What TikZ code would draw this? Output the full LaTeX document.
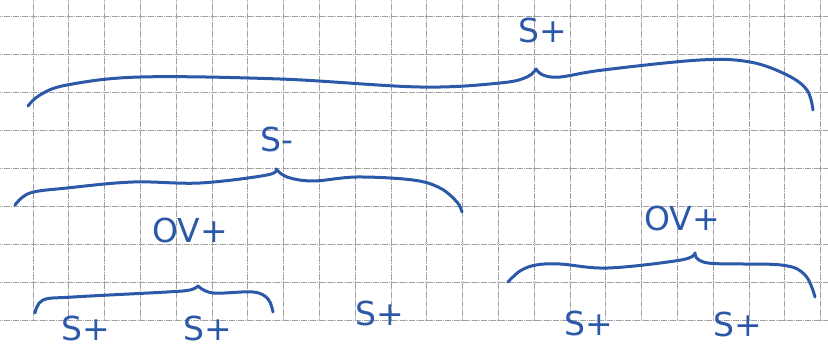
\documentclass[tikz,border=0pt]{standalone}
\usepackage{xcolor}
\usepackage{tikz}
\usepackage{fontspec}
\setmainfont{DejaVu Sans}
\definecolor{penblue}{RGB}{44, 88, 168}
\definecolor{gridgray}{RGB}{160, 160, 160}

\begin{document}
\begin{tikzpicture}[x=1pt, y=-1pt,
  gridline/.style={gridgray, line width=0.9pt, dash pattern=on 1.4pt off 0.4pt},
  pen/.style={penblue, line width=3pt, line cap=round, line join=round},
  lbl/.style={text=penblue, font=\fontsize{33}{33}\selectfont, inner sep=0pt},
]
  \useasboundingbox (0,0) rectangle (828,350);

  % Squared paper
  \foreach \k in {0,...,22}
    \draw[gridline] ({33+35.8*\k},0) -- ({33+35.8*\k},321);
  \foreach \k in {0,...,8}
    \draw[gridline] (0,{16+38.1*\k}) -- (828,{16+38.1*\k});

  % Top brace
  \draw[pen] plot[smooth, tension=0.6] coordinates {(28,106) (40,95) (67,85) (140,77) (280,79) (420,87) (500,83) (527,77) (536,69)};
  \draw[pen] plot[smooth, tension=0.6] coordinates {(536,69) (543,75) (560,77) (603,70) (700,60) (750,62) (787,75) (807,90) (813,110)};
  \node[lbl] (stop) at (543,30) {S+};

  % Middle brace
  \draw[pen] plot[smooth, tension=0.6] coordinates {(15,205) (30,193) (67,188) (133,182) (200,183) (267,175) (276,169)};
  \draw[pen] plot[smooth, tension=0.6] coordinates {(276,169) (287,177) (313,181) (357,177) (413,180) (440,188) (457,202) (462,212)};
  \node[lbl] (sminus) at (277,139) {S-};

  % Lower left brace
  \node[lbl] (ovleft) at (190,230) {OV+};
  \draw[pen] plot[smooth, tension=0.6] coordinates {(35,313) (43,300) (73,297) (167,292) (190,290) (198,286)};
  \draw[pen] plot[smooth, tension=0.6] coordinates {(198,286) (213,293) (253,292) (268,299) (273,312)};
  \node[lbl] (sa) at (86,328) {S+};
  \node[lbl] (sb) at (208,328) {S+};
  \node[lbl] (sc) at (380,313) {S+};

  % Lower right brace
  \node[lbl] (ovright) at (682,218) {OV+};
  \draw[pen] plot[smooth, tension=0.6] coordinates {(508,282) (520,271) (536,265) (560,264) (608,268) (681,260) (695,253)};
  \draw[pen] plot[smooth, tension=0.6] coordinates {(695,253) (708,263) (781,265) (805,275) (815,297)};
  \node[lbl] (sd) at (589,323) {S+};
  \node[lbl] (se) at (738,324) {S+};
\end{tikzpicture}
\end{document}
